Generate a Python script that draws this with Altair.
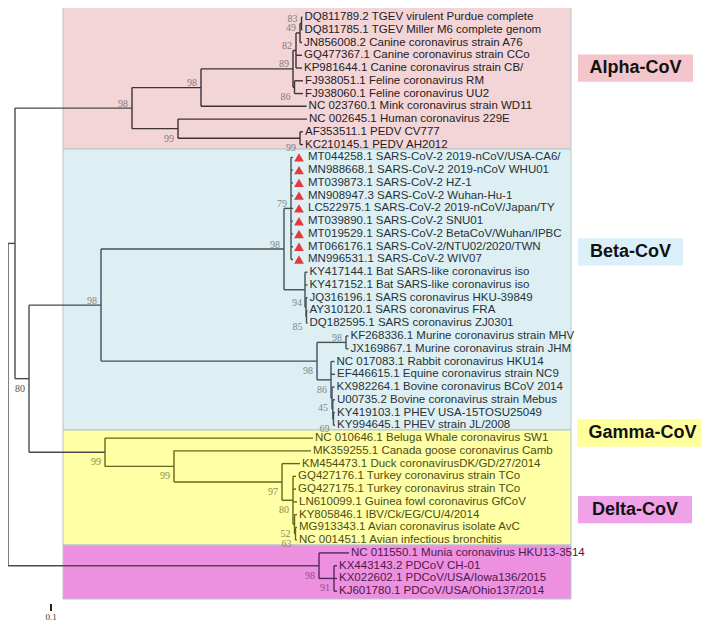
import altair as alt
import pandas as pd

# ---------------- data ----------------
leaf_names = [
    "DQ811789.2 TGEV virulent Purdue complete",
    "DQ811785.1 TGEV Miller M6 complete genom",
    "JN856008.2 Canine coronavirus strain A76",
    "GQ477367.1 Canine coronavirus strain CCo",
    "KP981644.1 Canine coronavirus strain CB/",
    "FJ938051.1 Feline coronavirus RM",
    "FJ938060.1 Feline coronavirus UU2",
    "NC 023760.1 Mink coronavirus strain WD11",
    "NC 002645.1 Human coronavirus 229E",
    "AF353511.1 PEDV CV777",
    "KC210145.1 PEDV AH2012",
    "MT044258.1 SARS-CoV-2 2019-nCoV/USA-CA6/",
    "MN988668.1 SARS-CoV-2 2019-nCoV WHU01",
    "MT039873.1 SARS-CoV-2 HZ-1",
    "MN908947.3 SARS-CoV-2 Wuhan-Hu-1",
    "LC522975.1 SARS-CoV-2 2019-nCoV/Japan/TY",
    "MT039890.1 SARS-CoV-2 SNU01",
    "MT019529.1 SARS-CoV-2 BetaCoV/Wuhan/IPBC",
    "MT066176.1 SARS-CoV-2/NTU02/2020/TWN",
    "MN996531.1 SARS-CoV-2 WIV07",
    "KY417144.1 Bat SARS-like coronavirus iso",
    "KY417152.1 Bat SARS-like coronavirus iso",
    "JQ316196.1 SARS coronavirus HKU-39849",
    "AY310120.1 SARS coronavirus FRA",
    "DQ182595.1 SARS coronavirus ZJ0301",
    "KF268336.1 Murine coronavirus strain MHV",
    "JX169867.1 Murine coronavirus strain JHM",
    "NC 017083.1 Rabbit coronavirus HKU14",
    "EF446615.1 Equine coronavirus strain NC9",
    "KX982264.1 Bovine coronavirus BCoV 2014",
    "U00735.2 Bovine coronavirus strain Mebus",
    "KY419103.1 PHEV USA-15TOSU25049",
    "KY994645.1 PHEV strain JL/2008",
    "NC 010646.1 Beluga Whale coronavirus SW1",
    "MK359255.1 Canada goose coronavirus Camb",
    "KM454473.1 Duck coronavirusDK/GD/27/2014",
    "GQ427176.1 Turkey coronavirus strain TCo",
    "GQ427175.1 Turkey coronavirus strain TCo",
    "LN610099.1 Guinea fowl coronavirus GfCoV",
    "KY805846.1 IBV/Ck/EG/CU/4/2014",
    "MG913343.1 Avian coronavirus isolate AvC",
    "NC 001451.1 Avian infectious bronchitis",
    "NC 011550.1 Munia coronavirus HKU13-3514",
    "KX443143.2 PDCoV CH-01",
    "KX022602.1 PDCoV/USA/Iowa136/2015",
    "KJ601780.1 PDCoV/USA/Ohio137/2014",
]
# cumulative distance from the root of each tip
leaf_depth = [
    14.72, 14.72, 14.70, 14.70, 14.70, 14.75, 14.75, 14.93, 14.95, 14.75, 14.75,
    14.25, 14.25, 14.25, 14.25, 14.25, 14.25, 14.25, 14.25, 14.25,
    14.975, 14.975, 14.975, 14.975, 14.975,
    17.025, 17.025,
    16.325, 16.35, 16.325, 16.35, 16.35, 16.35,
    15.25, 15.15, 14.60, 14.40, 14.40, 14.45, 14.45, 14.45, 14.45,
    17.05, 16.45, 16.45, 16.45,
]
leaf_clade = ["Alpha"] * 11 + ["Beta"] * 22 + ["Gamma"] * 9 + ["Delta"] * 4
marked_leaves = [11, 12, 13, 14, 15, 16, 17, 18, 19]  # SARS-CoV-2 (red triangles)

# internal nodes: name, depth, children (int = leaf index), bootstrap, label side
node_names = ["root", "A", "B",
              "a0", "a1", "a3", "a4", "a5", "a5b", "a6", "a2", "a7",
              "b0", "b1", "b2", "b3", "b4", "b5", "b6", "b7", "b8", "b9", "b10", "b11",
              "g0", "g1", "g2", "g3", "g4", "g5",
              "d0", "d1"]
node_depth = [0.0, 0.35, 1.05,
              6.2, 9.65, 14.25, 14.4, 14.6, 14.675, 14.325, 8.5, 14.6,
              4.65, 13.8, 14.15, 14.85, 14.9, 14.925, 15.45, 16.9, 16.15, 16.2, 16.24, 16.275,
              4.85, 8.3, 13.7, 14.25, 14.325, 14.375,
              15.55, 16.3]
node_children = [["A", "d0"], ["a0", "B"], ["b0", "g0"],
                 ["a1", "a2"], ["a3", 7], ["a4", "a6"], ["a5", 3, 4], ["a5b", 2], [0, 1], [5, 6],
                 [8, "a7"], [9, 10],
                 ["b1", "b6"], ["b2", "b3"], [11, 12, 13, 14, 15, 16, 17, 18, 19], [20, 21, "b4"],
                 [22, "b5"], [23, 24], ["b7", "b8"], [25, 26], [27, 28, "b9"], [29, "b10"],
                 [30, "b11"], [31, 32],
                 [33, "g1"], [34, "g2"], [35, "g3"], [36, 37, 38, "g4"], [39, "g5"], [40, 41],
                 [42, "d1"], [43, 44, 45]]
node_support = [None, None, 80,
                98, 98, 89, 82, 49, 83, 86, 99, 99,
                98, 98, 79, None, 94, 85, 98, 98, 86, 45, None, 69,
                99, 99, 97, 80, 52, 63,
                98, 91]
node_support_side = ["", "", "b",
                     "a", "a", "a", "a", "a", "a", "b", "b", "b",
                     "a", "a", "a", "", "a", "b", "b", "a", "b", "b", "", "b",
                     "b", "b", "b", "b", "b", "b",
                     "b", "b"]

clade_keys = ["Alpha", "Beta", "Gamma", "Delta"]
clade_titles = ["Alpha-CoV", "Beta-CoV", "Gamma-CoV", "Delta-CoV"]
clade_row_start = [-1.1, 10.35, 32.37, 41.38]
clade_row_end = [10.35, 32.37, 41.38, 45.61]
clade_box_from, clade_box_to = 2.75, 28.15
tag_row = [4.0, 18.4, 32.6, 38.6]
tag_from = [28.5, 28.5, 28.45, 28.5]
tag_to = [34.25, 33.75, 35.0, 34.2]

scale_bar_start, scale_bar_length = 2.1, 0.1
scale_bar_label = "0.1"

# ---------------- styles ----------------
region_fill = {"Alpha": "#f3d5d8", "Beta": "#ddeff3", "Gamma": "#ffffa6", "Delta": "#ee90e0"}
tag_fill = {"Alpha": "#f2c6ca", "Beta": "#dcf0fb", "Gamma": "#ffff9e", "Delta": "#f0a2e8"}
line_col = {"Alpha": "#3d3335", "Beta": "#435157", "Gamma": "#66661c", "Delta": "#56275a", "none": "#4a4a4a"}
text_col = {"Alpha": "#262022", "Beta": "#263238", "Gamma": "#4d4d12", "Delta": "#4b1a49"}
boot_col = {"Alpha": "#85787a", "Beta": "#7b898d", "Gamma": "#8c8c52", "Delta": "#8a5686", "none": "#555555"}

W, H = 693, 614
PX_PER_UNIT = 20.0
ROW_PX = 12.76
TOP_PX = 9.0

# ---------------- build tables ----------------
nodes = {n: (d, c, s, side) for n, d, c, s, side in
         zip(node_names, node_depth, node_children, node_support, node_support_side)}


def clade_of(name):
    if name in ("root", "A", "B"):
        return "none"
    return {"a": "Alpha", "b": "Beta", "g": "Gamma", "d": "Delta"}[name[0]]


def ypos(c):
    if isinstance(c, int):
        return float(c)
    ch = nodes[c][1]
    return (ypos(ch[0]) + ypos(ch[-1])) / 2.0


def xpos(c):
    return leaf_depth[c] if isinstance(c, int) else nodes[c][0]


seg_rows = []
boot_rows = []
for n in node_names:
    d, ch, s, side = nodes[n]
    cl = clade_of(n)
    seg_rows.append(dict(x=d, x2=d, y=ypos(ch[0]), y2=ypos(ch[-1]), col=line_col[cl]))
    for c in ch:
        yc = ypos(c)
        seg_rows.append(dict(x=d, x2=xpos(c), y=yc, y2=yc, col=line_col[cl]))
    if s is not None:
        boot_rows.append(dict(x=d, y=ypos(n), t=str(s), side=side, col=boot_col[cl]))

seg_df = pd.DataFrame(seg_rows)
boot_df = pd.DataFrame(boot_rows)

leaf_df = pd.DataFrame(dict(
    x=leaf_depth, y=[float(i) for i in range(len(leaf_names))], t=leaf_names,
    col=[text_col[c] for c in leaf_clade],
    marked=[i in marked_leaves for i in range(len(leaf_names))],
))

region_df = pd.DataFrame(dict(
    x=[clade_box_from] * 4, x2=[clade_box_to] * 4, y=clade_row_start, y2=clade_row_end,
    fill=[region_fill[k] for k in clade_keys]))
tag_df = pd.DataFrame(dict(
    x=tag_from, x2=tag_to, xm=[(a + b) / 2 for a, b in zip(tag_from, tag_to)],
    y=[r - 1.07 for r in tag_row], y2=[r + 1.07 for r in tag_row], ym=tag_row,
    t=clade_titles, fill=[tag_fill[k] for k in clade_keys]))
bar_df = pd.DataFrame(dict(x=[scale_bar_start], x2=[scale_bar_start + scale_bar_length],
                           xm=[scale_bar_start + scale_bar_length / 2],
                           y=[46.0], y2=[46.55], ym=[47.06], t=[scale_bar_label]))

xs = alt.Scale(domain=[0, W / PX_PER_UNIT], nice=False, zero=False)
d0 = -TOP_PX / ROW_PX
ys = alt.Scale(domain=[d0, d0 + H / ROW_PX], nice=False, zero=False, reverse=True)
X = lambda f: alt.X(f, type="quantitative", scale=xs, axis=None)
Y = lambda f: alt.Y(f, type="quantitative", scale=ys, axis=None)

regions = alt.Chart(region_df).mark_rect(stroke="#b3c7cb", strokeWidth=1).encode(
    x=X("x"), x2="x2", y=Y("y"), y2="y2", fill=alt.Fill("fill:N", scale=None))
tags = alt.Chart(tag_df).mark_rect().encode(
    x=X("x"), x2="x2", y=Y("y"), y2="y2", fill=alt.Fill("fill:N", scale=None))
tag_text = alt.Chart(tag_df).mark_text(font="Liberation Sans", fontWeight="bold", fontSize=18,
                                       align="center", baseline="middle", color="#111111").encode(
    x=X("xm"), y=Y("ym"), text="t:N")
segs = alt.Chart(seg_df).mark_rule(strokeWidth=1.4).encode(
    x=X("x"), x2="x2", y=Y("y"), y2="y2", color=alt.Color("col:N", scale=None))
leaf_plain = alt.Chart(leaf_df).transform_filter("!datum.marked").mark_text(
    font="Liberation Sans", fontSize=11.5, align="left", baseline="middle", dx=2).encode(
    x=X("x"), y=Y("y"), text="t:N", color=alt.Color("col:N", scale=None))
leaf_marked = alt.Chart(leaf_df).transform_filter("datum.marked").mark_text(
    font="Liberation Sans", fontSize=11.5, align="left", baseline="middle", dx=15).encode(
    x=X("x"), y=Y("y"), text="t:N", color=alt.Color("col:N", scale=None))
tri = alt.Chart(leaf_df).transform_filter("datum.marked").mark_point(
    shape="triangle-up", filled=True, size=95, color="#e23a3f", opacity=1, xOffset=6).encode(
    x=X("x"), y=Y("y"))
boot_above = alt.Chart(boot_df).transform_filter("datum.side == 'a'").mark_text(
    font="Liberation Serif", fontSize=10, align="right", baseline="middle", dx=-4, dy=-4.5).encode(
    x=X("x"), y=Y("y"), text="t:N", color=alt.Color("col:N", scale=None))
boot_below = alt.Chart(boot_df).transform_filter("datum.side == 'b'").mark_text(
    font="Liberation Serif", fontSize=10, align="right", baseline="middle", dx=-4, dy=10).encode(
    x=X("x"), y=Y("y"), text="t:N", color=alt.Color("col:N", scale=None))
bar = alt.Chart(bar_df).mark_rect(color="#222222").encode(x=X("x"), x2="x2", y=Y("y"), y2="y2")
bar_text = alt.Chart(bar_df).mark_text(font="Liberation Serif", fontSize=9, align="center",
                                       baseline="middle", color="#333333").encode(
    x=X("xm"), y=Y("ym"), text="t:N")

chart = alt.layer(regions, tags, tag_text, segs, leaf_plain, leaf_marked, tri,
                  boot_above, boot_below, bar, bar_text).properties(
    width=W, height=H, autosize=alt.AutoSizeParams(type="none"), padding=0,
    background="white").configure_view(stroke=None)

chart.save("out.html", embed_options={"renderer": "svg", "actions": False})
